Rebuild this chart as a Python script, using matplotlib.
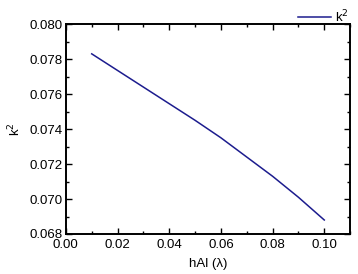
import matplotlib
matplotlib.use("Agg")
import matplotlib.pyplot as plt
from matplotlib.ticker import MultipleLocator, FormatStrFormatter

plt.rcParams['font.family'] = ['Liberation Sans', 'DejaVu Sans']

hal = [0.01, 0.02, 0.03, 0.04, 0.05, 0.06, 0.07, 0.08, 0.09, 0.10]
k2 = [0.0783, 0.07735, 0.0764, 0.07545, 0.0745, 0.0735, 0.0724, 0.0713, 0.0701, 0.0688]

fig = plt.figure(figsize=(3.58, 2.74), dpi=100)
ax = fig.add_axes([0.184, 0.146, 0.794, 0.766])
ax.plot(hal, k2, color='#1c1c8e', lw=1.1, label='k$^2$')

ax.set_xlim(0.0, 0.11)
ax.set_ylim(0.068, 0.080)
ax.xaxis.set_major_locator(MultipleLocator(0.02))
ax.xaxis.set_minor_locator(MultipleLocator(0.01))
ax.yaxis.set_major_locator(MultipleLocator(0.002))
ax.yaxis.set_minor_locator(MultipleLocator(0.001))
ax.xaxis.set_major_formatter(FormatStrFormatter('%.2f'))
ax.yaxis.set_major_formatter(FormatStrFormatter('%.3f'))
ax.tick_params(which='both', direction='in', top=True, right=True, width=1.0, labelsize=9.5)
ax.tick_params(axis='y', pad=2)
ax.tick_params(axis='x', pad=3.5)
ax.tick_params(which='major', length=4)
ax.tick_params(which='minor', length=2)
for s in ax.spines.values():
    s.set_linewidth(1.4)

ax.set_xlabel('hAl (λ)', fontsize=9.5, labelpad=5)
ax.set_ylabel('k$^2$', fontsize=9.5, labelpad=5)

ax.legend(loc='lower right', bbox_to_anchor=(1.0, 0.99), frameon=False,
          fontsize=9.5, handlelength=2.5, handletextpad=0.3, borderaxespad=0, borderpad=0.1)

fig.savefig('out.png', dpi=100)
